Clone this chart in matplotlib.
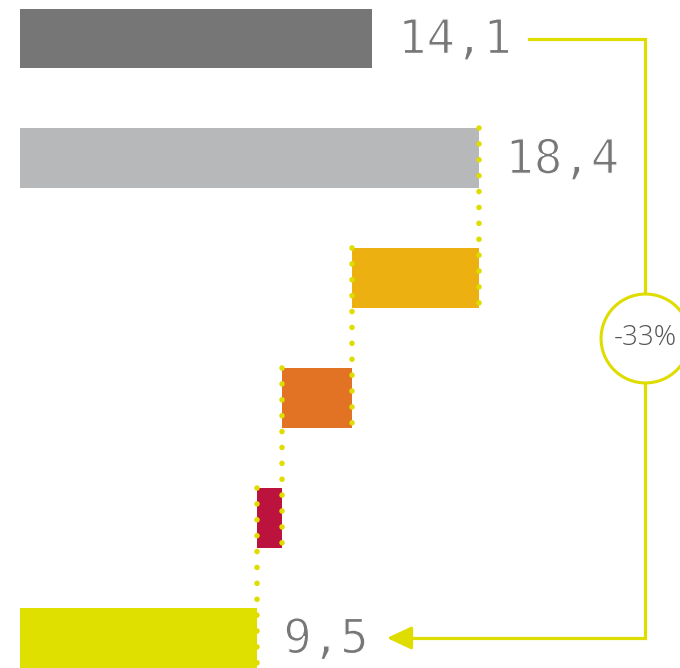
import numpy as np
import matplotlib
matplotlib.use("Agg")
import matplotlib.pyplot as plt
import matplotlib.patheffects as pe

# waterfall data (top to bottom)
values = [14.1, 18.4, -5.1, -2.8, -1.0, 9.5]
is_total = [True, True, False, False, False, True]
colors = ["#767677", "#b7b8ba", "#ecb111", "#e27325", "#bb133e", "#dfe000"]
value_labels = ["14,1", "18,4", "", "", "", "9,5"]
change_label = "-33%"

line_col = "#dfdc00"

fig = plt.figure(figsize=(6.8, 6.68), dpi=100)
ax = fig.add_axes([0, 0, 1, 1])

rows = np.arange(len(values))
lefts = []
widths = []
level = 0
for v, tot in zip(values, is_total):
    if tot:
        lefts.append(0)
        widths.append(v)
        level = v
    else:
        lefts.append(level + v)
        widths.append(-v)
        level = level + v

ax.barh(rows, widths, left=lefts, height=0.5, color=colors, zorder=2)

# dotted connectors between steps
for i in range(1, len(values) - 1):
    x = lefts[i] + widths[i] if is_total[i] else lefts[i]
    ax.plot([x, x], [i - 0.25, i + 1.25], color=line_col, lw=4.0,
            ls=(0, (0.01, 2.85)), dash_capstyle="round", zorder=3)

# value labels (thinned a bit with a white outline on top)
thin = [pe.Normal(), pe.Stroke(linewidth=0.9, foreground="white")]
for i, lab in enumerate(value_labels):
    if lab:
        ax.text(lefts[i] + widths[i] + 1.05, i + 0.02, lab, ha="left", va="center",
                fontsize=34, color="#777777", family="DejaVu Sans Mono",
                path_effects=thin)

# bracket from first to last total
x_from = 20.4
x_side = 25.04
x_to = 14.7
first, last = 0, len(values) - 1
ax.plot([x_from, x_side, x_side, x_to + 0.8], [first, first, last, last],
        color=line_col, lw=2.3, solid_joinstyle="miter", zorder=2)
ax.annotate("", xy=(x_to, last), xytext=(x_to + 1.0, last),
            arrowprops=dict(arrowstyle="-|>,head_length=0.75,head_width=0.35",
                            color=line_col, lw=2.3, mutation_scale=20,
                            shrinkA=0, shrinkB=0))

mid = (first + last) / 2
ax.plot([x_side], [mid], marker="o", markersize=64, markerfacecolor="white",
        markeredgecolor=line_col, markeredgewidth=2.2, zorder=4)
ax.text(x_side, mid, change_label, ha="center", va="center", fontsize=20,
        color="#555555", family="Open Sans", weight="light", zorder=5)

ax.set_xlim(-20 / 24.96, 660 / 24.96)
ax.set_ylim((668 - 38.5) / 119.9, -38.5 / 119.9)
ax.axis("off")

fig.savefig("out.png", dpi=100)
